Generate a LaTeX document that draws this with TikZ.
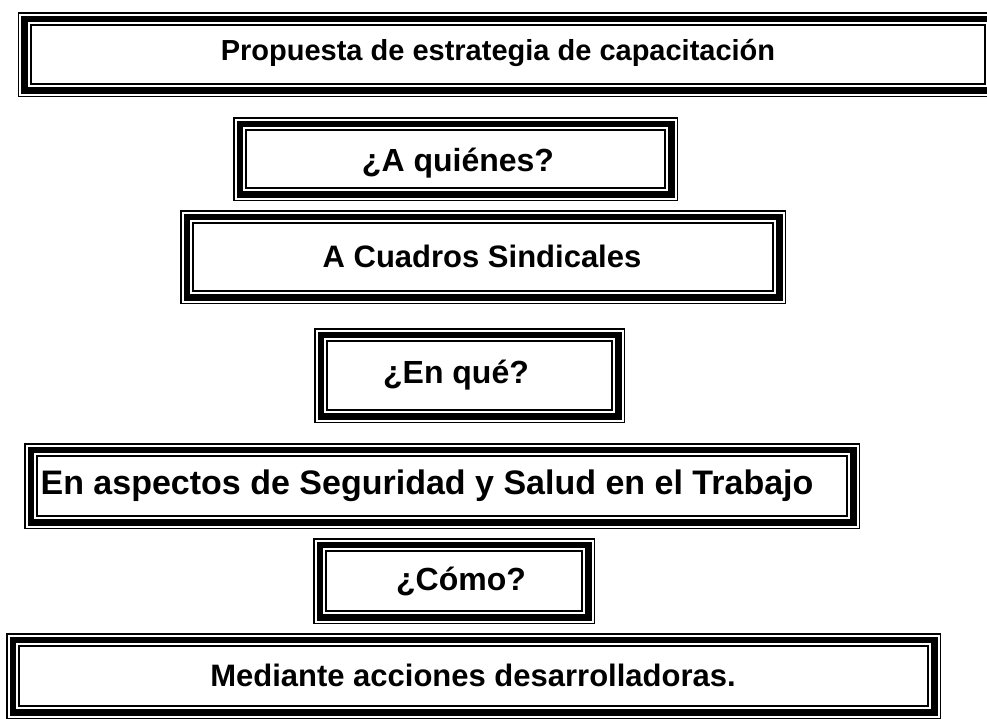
\documentclass[tikz,border=0pt]{standalone}
\usepackage{fontspec}
\setmainfont{Liberation Sans}
\usepackage{tikz}

\tikzset{
  marco/.style={shape=rectangle, draw=black, line width=6.5pt, inner sep=0pt, outer sep=0pt},
  texto/.style={font=\fontsize{32}{38}\selectfont\bfseries, inner sep=0pt}
}

% thin outer and inner lines around a framed node
\newcommand{\filetes}[1]{%
  \draw[line width=1.5pt] ([shift={(-6pt,6pt)}]#1.north west) rectangle ([shift={(6pt,-6pt)}]#1.south east);
  \draw[line width=2pt] ([shift={(6.25pt,-6.25pt)}]#1.north west) rectangle ([shift={(-6.25pt,6.25pt)}]#1.south east);
}

\begin{document}
\begin{tikzpicture}[x=1pt, y=-1pt]
	\useasboundingbox (0,0) rectangle (987,718);
	
	\node[marco, minimum width=967pt,   minimum height=71.5pt] (propuesta) at (508, 54.5)   {};
	\node[marco, minimum width=431.5pt, minimum height=70.5pt] (quienes)   at (455.5, 159)  {};
	\node[marco, minimum width=592.5pt, minimum height=80.5pt] (cuadros)   at (483, 257)    {};
	\node[marco, minimum width=297.5pt, minimum height=81.5pt] (enque)     at (469.5, 375.5) {};
	\node[marco, minimum width=822.5pt, minimum height=72.5pt] (aspectos)  at (442, 486)    {};
	\node[marco, minimum width=268.5pt, minimum height=72.5pt] (como)      at (454, 581)    {};
	\node[marco, minimum width=921.5pt, minimum height=72.5pt] (mediante)  at (473.5, 676)  {};
	
	\filetes{propuesta}
	\filetes{quienes}
	\filetes{cuadros}
	\filetes{enque}
	\filetes{aspectos}
	\filetes{como}
	\filetes{mediante}
	
	\node[texto, font=\fontsize{29}{34}\selectfont\bfseries] (propuestaTxt) at (498, 53) {Propuesta de estrategia de capacitación};
	\node[texto] (quienesTxt)   at (458, 163) {¿A quiénes?};
	\node[texto, font=\fontsize{31}{37}\selectfont\bfseries] (cuadrosTxt) at (482, 256) {A Cuadros Sindicales};
	\node[texto] (enqueTxt)     at (456, 375) {¿En qué?};
	\node[texto, font=\fontsize{34}{40}\selectfont\bfseries] (aspectosTxt) at (427, 486) {En aspectos de Seguridad y Salud en el Trabajo};
	\node[texto] (comoTxt)      at (461, 581) {¿Cómo?};
	\node[texto, font=\fontsize{31}{37}\selectfont\bfseries] (medianteTxt) at (473, 675) {Mediante acciones desarrolladoras.};
	
\end{tikzpicture}
\end{document}
